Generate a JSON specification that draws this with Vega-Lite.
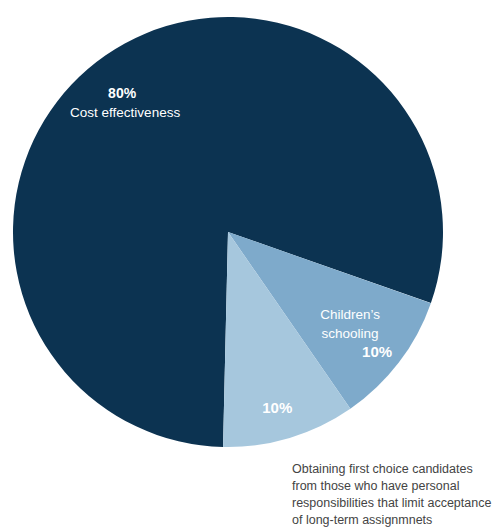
{
  "$schema": "https://vega.github.io/schema/vega-lite/v6.json",
  "width": 456,
  "height": 464,
  "padding": {"left": 0, "top": 0, "right": 38, "bottom": 65},
  "autosize": {"type": "none"},
  "background": "white",
  "title": {
    "text": ["Obtaining first choice candidates", "from those who have personal", "responsibilities that limit acceptance", "of long-term assignmnets"],
    "orient": "bottom",
    "anchor": "start",
    "align": "left",
    "baseline": "top",
    "dx": 292,
    "offset": -1,
    "font": "Liberation Sans, Arial, sans-serif",
    "fontSize": 12.5,
    "fontWeight": "normal",
    "lineHeight": 17,
    "color": "#444444"
  },
  "data": {
    "values": [
      {"category": "Cost effectiveness", "value": 80, "order": 3, "pct": "80%"},
      {"category": "Children’s schooling", "value": 10, "order": 1, "pct": "10%"},
      {"category": "Obtaining first choice candidates", "value": 10, "order": 2, "pct": "10%"}
    ]
  },
  "encoding": {
    "theta": {"field": "value", "type": "quantitative", "stack": true, "scale": {"range": [1.908, 8.191]}},
    "order": {"field": "order", "type": "quantitative", "sort": "ascending"}
  },
  "layer": [
    {
      "mark": {"type": "arc", "outerRadius": 215},
      "encoding": {
        "color": {
          "field": "category",
          "type": "nominal",
          "scale": {
            "domain": ["Cost effectiveness", "Children’s schooling", "Obtaining first choice candidates"],
            "range": ["#0c3351", "#7eaacb", "#a6c7dd"]
          },
          "legend": null
        }
      }
    },
    {
      "mark": {"type": "text", "radius": 172, "dx": -8, "dy": 3, "fontSize": 14, "fontWeight": "bold", "color": "white", "font": "Liberation Sans, Arial, sans-serif"},
      "encoding": {
        "text": {"condition": {"test": "datum.category === 'Cost effectiveness'", "field": "pct"}, "value": ""}
      }
    },
    {
      "mark": {"type": "text", "radius": 172, "dx": -5, "dy": 22, "fontSize": 13.5, "color": "white", "font": "Liberation Sans, Arial, sans-serif"},
      "encoding": {
        "text": {"condition": {"test": "datum.category === 'Cost effectiveness'", "field": "category"}, "value": ""}
      }
    },
    {
      "mark": {"type": "text", "radius": 151, "dx": 2, "dy": -9, "lineBreak": " ", "lineHeight": 19.5, "fontSize": 13.5, "color": "white", "font": "Liberation Sans, Arial, sans-serif"},
      "encoding": {
        "text": {"condition": {"test": "datum.category === 'Children’s schooling'", "field": "category"}, "value": ""}
      }
    },
    {
      "mark": {"type": "text", "radius": 190, "dx": -2, "dy": 5, "fontSize": 15, "fontWeight": "bold", "color": "white", "font": "Liberation Sans, Arial, sans-serif"},
      "encoding": {
        "text": {"condition": {"test": "datum.category === 'Children’s schooling'", "field": "pct"}, "value": ""}
      }
    },
    {
      "mark": {"type": "text", "radius": 182, "dx": -3, "dy": 2, "fontSize": 15, "fontWeight": "bold", "color": "white", "font": "Liberation Sans, Arial, sans-serif"},
      "encoding": {
        "text": {"condition": {"test": "datum.order === 2", "field": "pct"}, "value": ""}
      }
    }
  ],
  "config": {"view": {"stroke": null}}
}
